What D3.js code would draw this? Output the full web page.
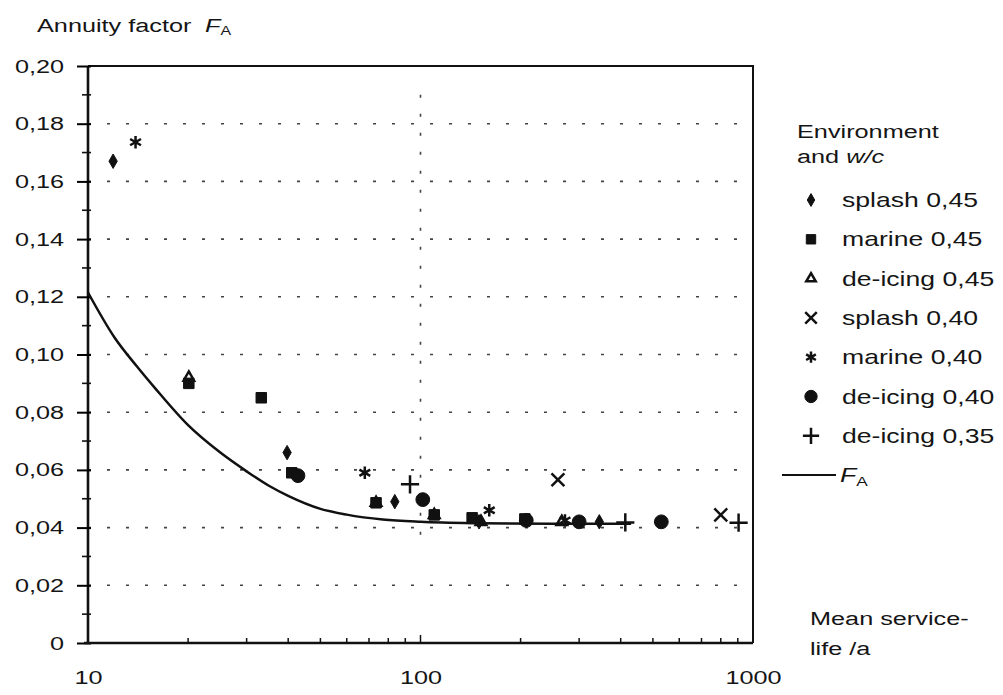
<!DOCTYPE html>
<html>
<head>
<meta charset="utf-8">
<script src="https://cdn.jsdelivr.net/npm/d3@7"></script>
<style>
  body { margin: 0; background: #fff; }
  text { font-family: "Liberation Sans", Arial, sans-serif; fill: #151515; }
</style>
</head>
<body>
<div id="chart"></div>
<script>
var svgWidth = 1003;
var svgHeight = 695;

var margin = { top: 66, right: 250, bottom: 52, left: 88 };
var width = 753 - margin.left;
var height = 643 - margin.top;

// data: mean service life (a) and annuity factor
var splash45X = [11.9, 39.7, 83.7, 150, 345];
var splash45Y = [0.167, 0.066, 0.049, 0.042, 0.042];
var marine45X = [20.1, 33.2, 41, 73.5, 110, 143, 206];
var marine45Y = [0.090, 0.085, 0.059, 0.0486, 0.0444, 0.0434, 0.043];
var deicing45X = [20.1, 73.5, 110, 152, 266];
var deicing45Y = [0.092, 0.0486, 0.0444, 0.042, 0.042];
var splash40X = [259, 800];
var splash40Y = [0.0566, 0.0444];
var marine40X = [13.9, 68, 161, 272];
var marine40Y = [0.1736, 0.059, 0.046, 0.0425];
var deicing40X = [42.8, 101.6, 208, 300, 530];
var deicing40Y = [0.058, 0.0497, 0.0425, 0.042, 0.042];
var deicing35X = [93, 413, 905];
var deicing35Y = [0.055, 0.0418, 0.0417];

// annuity factor curve
var curveX = [10, 12, 14, 16, 20, 25, 30, 35, 40, 50, 60, 77, 100, 150, 250, 430];
var curveY = [0.1215, 0.106, 0.096, 0.088, 0.0755, 0.066, 0.0595, 0.0545, 0.051, 0.0465, 0.0445, 0.0428, 0.042, 0.0415, 0.0413, 0.0413];

var yTicks = [0, 0.02, 0.04, 0.06, 0.08, 0.10, 0.12, 0.14, 0.16, 0.18, 0.20];
var yTickLabels = ["0", "0,02", "0,04", "0,06", "0,08", "0,10", "0,12", "0,14", "0,16", "0,18", "0,20"];
var xTicks = [10, 100, 1000];
var seriesNames = ["splash 0,45", "marine 0,45", "de-icing 0,45", "splash 0,40", "marine 0,40", "de-icing 0,40", "de-icing 0,35"];

var series = [
  { name: seriesNames[0], xs: splash45X, ys: splash45Y, type: d3.symbolDiamond, size: 60, fill: true },
  { name: seriesNames[1], xs: marine45X, ys: marine45Y, type: d3.symbolSquare, size: 110, fill: true },
  { name: seriesNames[2], xs: deicing45X, ys: deicing45Y, type: d3.symbolTriangle2, size: 80, fill: false },
  { name: seriesNames[3], xs: splash40X, ys: splash40Y, type: d3.symbolX, size: 110, fill: false },
  { name: seriesNames[4], xs: marine40X, ys: marine40Y, type: d3.symbolAsterisk, size: 110, fill: false },
  { name: seriesNames[5], xs: deicing40X, ys: deicing40Y, type: d3.symbolCircle, size: 150, fill: true },
  { name: seriesNames[6], xs: deicing35X, ys: deicing35Y, type: d3.symbolPlus, size: 110, fill: false }
];

var stretch = 1.33; // the scanned lettering is wide

var svg = d3.select("#chart")
  .append("svg")
  .attr("width", svgWidth)
  .attr("height", svgHeight);

var chartGroup = svg.append("g")
  .attr("transform", `translate(${margin.left}, ${margin.top})`);

var xScale = d3.scaleLog().domain([10, 1000]).range([0, width]);
var yScale = d3.scaleLinear().domain([0, 0.20]).range([height, 0]);

// stretched text helper
function addText(g, x, y, str, anchor, size) {
  return g.append("text")
    .attr("transform", `translate(${x},${y}) scale(${stretch},1)`)
    .attr("text-anchor", anchor || "start")
    .attr("dy", "0.35em")
    .style("font-size", (size || 19) + "px")
    .text(str);
}

// grid
chartGroup.append("g")
  .selectAll("line")
  .data(yTicks.slice(1, 10))
  .enter()
  .append("line")
  .attr("x1", 0)
  .attr("x2", width)
  .attr("y1", d => yScale(d))
  .attr("y2", d => yScale(d))
  .attr("stroke", "#444")
  .attr("stroke-width", 1.6)
  .attr("stroke-dasharray", "3,16");

chartGroup.append("line")
  .attr("x1", xScale(100))
  .attr("x2", xScale(100))
  .attr("y1", yScale(0.19))
  .attr("y2", yScale(0.035))
  .attr("stroke", "#444")
  .attr("stroke-width", 1.6)
  .attr("stroke-dasharray", "3,16");

// frame top and right
chartGroup.append("path")
  .attr("d", `M0,0H${width}V${height}`)
  .attr("fill", "none")
  .attr("stroke", "#111")
  .attr("stroke-width", 2);

// y axis
var leftAxis = d3.axisLeft(yScale)
  .tickValues(yTicks)
  .tickFormat((d, i) => yTickLabels[i])
  .tickSize(11)
  .tickPadding(7);

var yAxis = chartGroup.append("g").call(leftAxis);
yAxis.select(".domain").attr("stroke-width", 2.6).attr("stroke", "#111");
yAxis.selectAll(".tick line").attr("stroke-width", 2).attr("x2", -11).attr("x1", 3);
yAxis.selectAll(".tick text")
  .attr("transform", `scale(${stretch},1)`)
  .style("font-size", "19px")
  .attr("fill", "#151515");
yAxis.select(".domain").attr("d", `M0,${height}V0`);

// y minor ticks
var yMinor = d3.range(1, 20, 2).map(d => d / 100);
chartGroup.append("g")
  .selectAll("line")
  .data(yMinor)
  .enter()
  .append("line")
  .attr("x1", -6)
  .attr("x2", 3)
  .attr("y1", d => yScale(d))
  .attr("y2", d => yScale(d))
  .attr("stroke", "#111")
  .attr("stroke-width", 1.6);

// x axis
var bottomAxis = d3.axisBottom(xScale)
  .tickValues(xTicks)
  .tickFormat(d3.format("d"))
  .tickSize(0)
  .tickPadding(28);

var xAxis = chartGroup.append("g")
  .attr("transform", `translate(0, ${height})`)
  .call(bottomAxis);
xAxis.select(".domain").attr("stroke-width", 2.6).attr("stroke", "#111").attr("d", `M-4,0H${width}`);
xAxis.selectAll(".tick text")
  .attr("transform", `scale(${stretch},1)`)
  .style("font-size", "19px")
  .attr("fill", "#151515");

// x minor ticks (pointing inside)
var xMinor = [20, 30, 40, 50, 60, 70, 80, 90, 200, 300, 400, 500, 600, 700, 800, 900];
chartGroup.append("g")
  .selectAll("line")
  .data(xMinor.concat([100]))
  .enter()
  .append("line")
  .attr("x1", d => xScale(d))
  .attr("x2", d => xScale(d))
  .attr("y1", height)
  .attr("y2", d => d === 100 ? height - 8 : height - 5)
  .attr("stroke", "#111")
  .attr("stroke-width", 1.5);

// annuity factor curve
var line = d3.line()
  .x(d => xScale(d[0]))
  .y(d => yScale(d[1]))
  .curve(d3.curveMonotoneX);

chartGroup.append("path")
  .datum(d3.zip(curveX, curveY))
  .attr("d", line)
  .attr("fill", "none")
  .attr("stroke", "#111")
  .attr("stroke-width", 2.5);

// markers
function drawSymbol(g, s, x, y) {
  g.append("path")
    .attr("transform", `translate(${x},${y})`)
    .attr("d", d3.symbol().type(s.type).size(s.size))
    .attr("fill", s.fill ? "#111" : "none")
    .attr("stroke", "#111")
    .attr("stroke-width", s.fill ? 1 : 2.5);
}

series.forEach(function(s) {
  var g = chartGroup.append("g");
  s.xs.forEach(function(x, i) {
    drawSymbol(g, s, xScale(x), yScale(s.ys[i]));
  });
});

// y title
var title = svg.append("g");
addText(title, 37, 25, "Annuity factor", "start", 19);
var fa = title.append("text")
  .attr("transform", `translate(205,25) scale(${stretch},1)`)
  .attr("dy", "0.35em")
  .style("font-size", "19px");
fa.append("tspan").style("font-style", "italic").text("F");
fa.append("tspan").attr("dy", "0.3em").style("font-size", "12px").text("A");

// legend
var legend = svg.append("g");
addText(legend, 797, 131, "Environment", "start", 19);
var head = legend.append("text")
  .attr("transform", `translate(797,156) scale(${stretch},1)`)
  .attr("dy", "0.35em")
  .style("font-size", "19px");
head.append("tspan").text("and ");
head.append("tspan").style("font-style", "italic").text("w/c");

series.forEach(function(s, i) {
  var y = 200 + i * 39.3;
  var ls = Object.assign({}, s, { size: s.size * 0.8 });
  drawSymbol(legend, ls, 811, y);
  addText(legend, 842, y, s.name, "start", 20);
});

var fy = 200 + 7 * 39.3;
legend.append("line")
  .attr("x1", 782)
  .attr("x2", 836)
  .attr("y1", fy)
  .attr("y2", fy)
  .attr("stroke", "#111")
  .attr("stroke-width", 2);
var fl = legend.append("text")
  .attr("transform", `translate(840,${fy}) scale(${stretch},1)`)
  .attr("dy", "0.35em")
  .style("font-size", "20px");
fl.append("tspan").style("font-style", "italic").text("F");
fl.append("tspan").attr("dy", "0.3em").style("font-size", "13px").text("A");

// x axis title
addText(svg, 810, 618, "Mean service-", "start", 19);
addText(svg, 810, 648, "life /a", "start", 19);
</script>
</body>
</html>
